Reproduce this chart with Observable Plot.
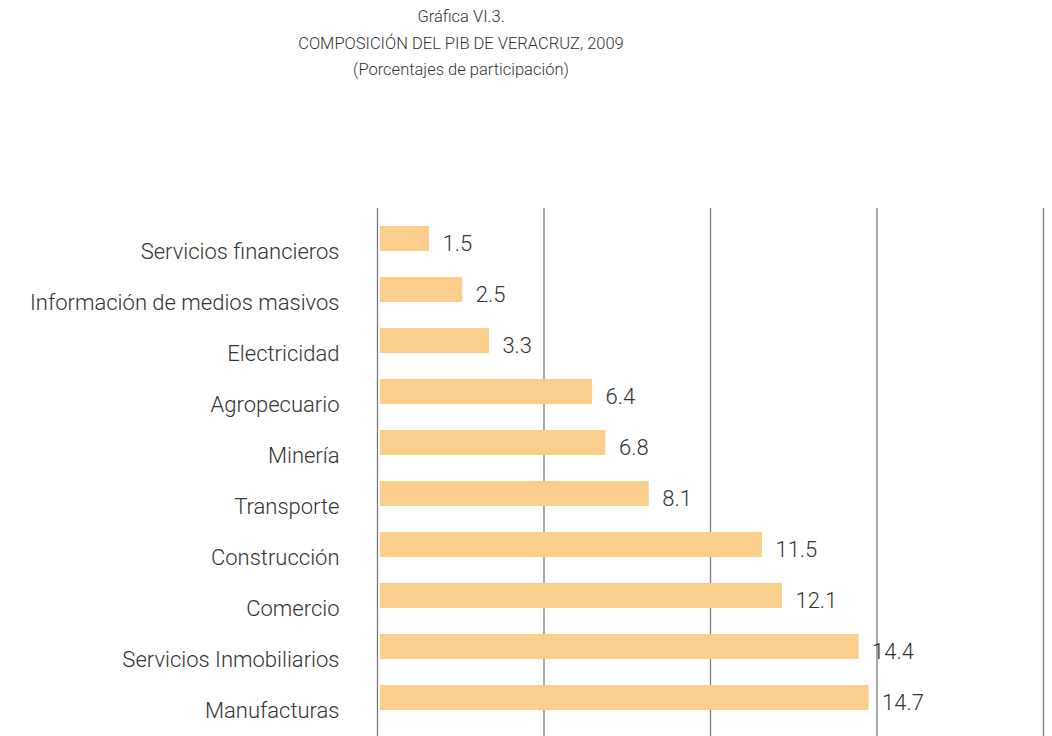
<!DOCTYPE html>
<html><head><meta charset="utf-8">
<script src="https://cdn.jsdelivr.net/npm/d3@7"></script>
<script src="https://cdn.jsdelivr.net/npm/@observablehq/plot@0.6"></script>
<style>
body{margin:0;background:#fff;}
#title{position:absolute;left:0;top:4px;width:922px;text-align:center;font-family:Roboto,sans-serif;font-weight:300;font-size:16.5px;line-height:26.5px;color:#333;}
#chart{position:absolute;left:0;top:100px;}
</style></head><body>
<div id="title"><div>Gráfica VI.3.</div><div>COMPOSICIÓN DEL PIB DE VERACRUZ, 2009</div><div>(Porcentajes de participación)</div></div>
<div id="chart"></div>
<script>
const categories = ["Servicios financieros","Información de medios masivos","Electricidad","Agropecuario","Minería","Transporte","Construcción","Comercio","Servicios Inmobiliarios","Manufacturas"];
const values = [1.5, 2.5, 3.3, 6.4, 6.8, 8.1, 11.5, 12.1, 14.4, 14.7];
const gridValues = [0, 5, 10, 15, 20];
const data = categories.map((c, i) => ({sector: c, value: values[i]}));
const font = 'Roboto, sans-serif';
const chart = Plot.plot({
  width: 1052, height: 636,
  marginTop: 108, marginBottom: 0, marginLeft: 379, marginRight: 7,
  x: {domain: [0, 20], axis: null},
  y: {domain: categories, range: [100, 636], paddingInner: 0.51, paddingOuter: 0.5, label: null, axis: null},
  style: {fontFamily: font, color: "#333", background: "white"},
  marks: [
    Plot.ruleX(gridValues, {stroke: "#7a7a7a", strokeWidth: 1.3, dx: -2}),
    Plot.barX(data, {x: "value", y: "sector", fill: "#FCCE8B", insetLeft: 1}),
    Plot.text(data, {x: "value", y: "sector", text: d => d.value.toFixed(1), textAnchor: "start", dx: 13, dy: 5, fontSize: 22, fill: "#333", fontWeight: 300}),
    Plot.axisY({tickSize: 0, tickPadding: 40, fontSize: 22, dy: 13, label: null, fontWeight: 300})
  ]
});
document.getElementById("chart").appendChild(chart);
</script>
</body></html>
